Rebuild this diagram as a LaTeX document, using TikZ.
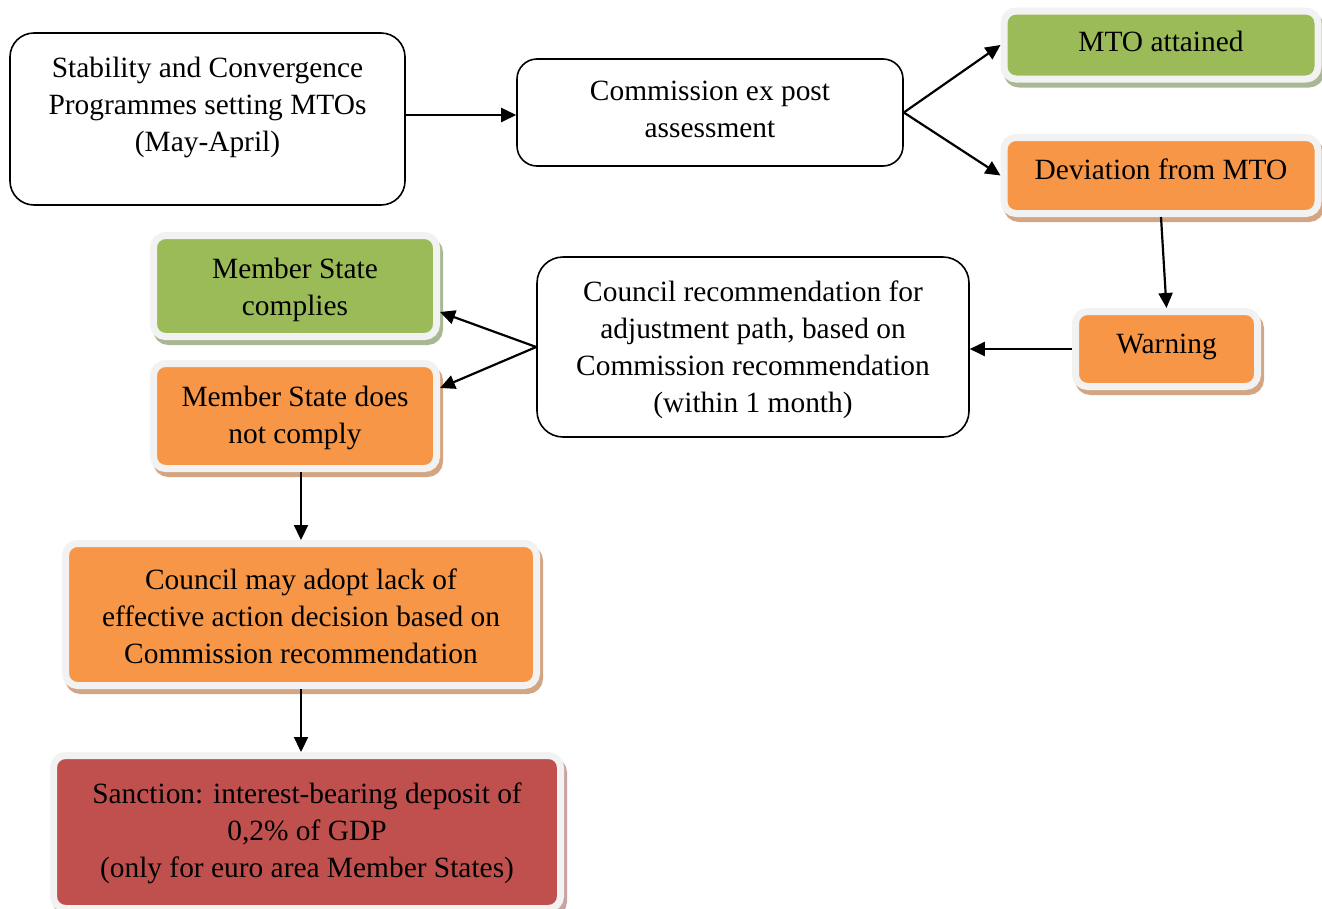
\documentclass[tikz,border=0pt]{standalone}
\usepackage{fontspec}
\setmainfont{Liberation Serif}
\usetikzlibrary{arrows.meta,calc}
\definecolor{cgreen}{HTML}{9BBB59}
\definecolor{corange}{HTML}{F79646}
\definecolor{cred}{HTML}{C0504D}
\definecolor{cband}{HTML}{F2F2F2}
\definecolor{sgreen}{HTML}{A9B894}
\definecolor{sorange}{HTML}{D3A583}
\definecolor{sred}{HTML}{C9A3A1}
\tikzset{
  every node/.style={font=\fontsize{29.4}{37}\selectfont, align=center, text=black},
  whitebox/.style={draw=black, line width=1.6pt, fill=white, rectangle, rounded corners=24pt, inner sep=0pt},
  colbox/.style 2 args={rectangle, rounded corners=12pt, inner sep=0pt, fill=#1, draw=cband, line width=7pt,
     preaction={draw=#2, fill=#2, line width=7pt, transform canvas={xshift=3pt,yshift=-5pt}}},
  arr/.style={line width=2.2pt, -{Triangle[length=15pt,width=14pt]}},
}
\begin{document}
\begin{tikzpicture}[x=1pt,y=-1pt]
\useasboundingbox (0,0) rectangle (1322,908);
% white boxes
\node[whitebox, minimum width=395pt, minimum height=172pt, text depth=29pt] (stab) at (207.5,119)
  {Stability and Convergence\\Programmes setting MTOs\\(May-April)};
\node[whitebox, rounded corners=20pt, minimum width=386pt, minimum height=107pt, text depth=6pt] (comm) at (710,112.5)
  {Commission ex post\\assessment};
\node[whitebox, rounded corners=26pt, minimum width=432pt, minimum height=180pt, text height=137pt, text depth=6pt] (crec) at (753,347)
  {Council recommendation for\\adjustment path, based on\\Commission recommendation\\(within 1 month)};
% coloured boxes
\node[colbox={cgreen}{sgreen}, minimum width=314pt, minimum height=68pt, text height=20pt, text depth=8pt] (mto) at (1161,45)
  {MTO attained};
\node[colbox={corange}{sorange}, minimum width=314pt, minimum height=76pt, text height=20pt, text depth=13pt] (dev) at (1161,175.5)
  {Deviation from MTO};
\node[colbox={corange}{sorange}, minimum width=182pt, minimum height=75pt, text height=20pt, text depth=12pt] (warn) at (1166.5,349)
  {Warning};
\node[colbox={cgreen}{sgreen}, minimum width=283pt, minimum height=101pt, text height=65pt, text depth=6pt] (comp) at (295,286)
  {Member State\\complies};
\node[colbox={corange}{sorange}, minimum width=283pt, minimum height=105pt, text height=61pt, text depth=6pt] (notc) at (295,416)
  {Member State does\\not comply};
\node[colbox={corange}{sorange}, minimum width=471pt, minimum height=142pt, text height=100pt, text depth=3pt] (may) at (301,614.5)
  {Council may adopt lack of\\effective action decision based on\\Commission recommendation};
\node[colbox={cred}{sred}, minimum width=507pt, minimum height=153pt, text height=97pt, text depth=6pt] (san) at (307,832)
  {Sanction: interest-bearing deposit of\\0,2\% of GDP\\(only for euro area Member States)};
% connectors
\coordinate (s1) at ($(stab.east)+(0,-4)$);
\draw[arr] (s1) -- (s1 -| comm.west);
\draw[arr] (comm.east) -- (mto.west);
\draw[arr] (comm.east) -- (dev.west);
\draw[arr] (dev.south) -- (warn.north);
\draw[arr] (warn.west) -- (warn.west -| crec.east);
\draw[arr] (crec.west) -- ($(comp.east)+(0,26)$);
\draw[arr] (crec.west) -- ($(notc.east)+(0,-28)$);
\draw[arr] (may.north |- notc.south) -- (may.north);
\draw[arr] (may.south) -- (may.south |- san.north);
\end{tikzpicture}
\end{document}
